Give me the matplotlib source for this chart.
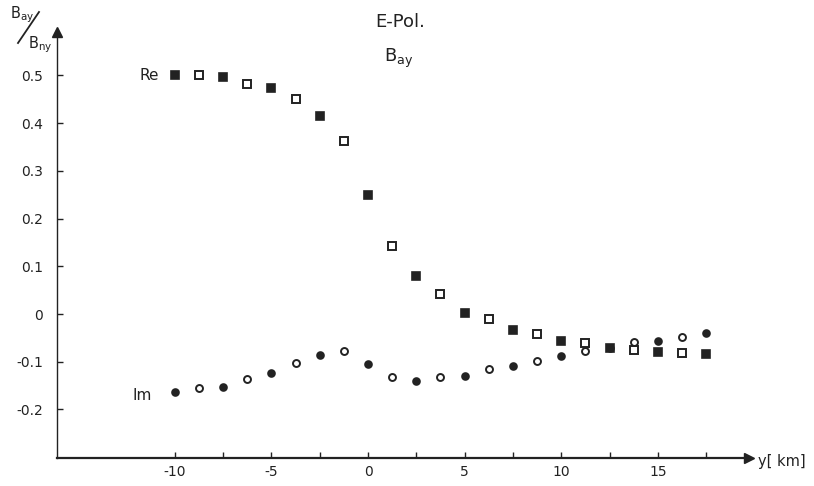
import matplotlib
matplotlib.use("Agg")
import matplotlib.pyplot as plt
import numpy as np

plt.rcParams['font.family'] = ['DejaVu Sans']
plt.rcParams['mathtext.default'] = 'regular'

# Data
y_km = [-10, -8.75, -7.5, -6.25, -5, -3.75, -2.5, -1.25, 0, 1.25, 2.5, 3.75,
        5, 6.25, 7.5, 8.75, 10, 11.25, 12.5, 13.75, 15, 16.25, 17.5]
re_vals = [0.5, 0.5, 0.496, 0.483, 0.474, 0.45, 0.415, 0.362, 0.25, 0.143, 0.08, 0.042,
           0.003, -0.01, -0.034, -0.042, -0.057, -0.061, -0.071, -0.075, -0.08, -0.082, -0.084]
im_vals = [-0.164, -0.155, -0.153, -0.136, -0.124, -0.103, -0.086, -0.078, -0.105, -0.132,
           -0.14, -0.132, -0.13, -0.115, -0.109, -0.099, -0.088, -0.078, -0.071, -0.059,
           -0.057, -0.048, -0.04]
x_ticks = [-10, -5, 0, 5, 10, 15]
x_minor = [-7.5, -2.5, 2.5, 7.5, 12.5, 17.5]
y_ticks = [-0.2, -0.1, 0, 0.1, 0.2, 0.3, 0.4, 0.5]
y_ticklabels = ['-0.2', '-0.1', '0', '0.1', '0.2', '0.3', '0.4', '0.5']

x = np.array(y_km)
re = np.array(re_vals)
im = np.array(im_vals)
filled = np.arange(len(x)) % 2 == 0

W, H = 814, 486
L, R, T, B = 57, 749, 32, 458
fig = plt.figure(figsize=(W/100, H/100), dpi=100)
ax = fig.add_axes([L/W, 1-B/H, (R-L)/W, (B-T)/H])
# data scale: x=0 at px 368, 19.33 px/unit; y=0 at px 314, 477 px/unit
ax.set_xlim((L-368)/19.33, (R-368)/19.33)
ax.set_ylim((314-B)/477, (314-T)/477)

c = '#222222'
# Re: squares
ax.plot(x[filled], re[filled], 's', ms=5.2, mfc=c, mec=c, mew=1.2, ls='none')
ax.plot(x[~filled], re[~filled], 's', ms=5.2, mfc='white', mec=c, mew=1.4, ls='none')
# Im: circles
ax.plot(x[filled], im[filled], 'o', ms=5, mfc=c, mec=c, mew=1.2, ls='none')
ax.plot(x[~filled], im[~filled], 'o', ms=5, mfc='white', mec=c, mew=1.4, ls='none')

for s in ['top', 'right']:
    ax.spines[s].set_visible(False)
ax.spines['left'].set_linewidth(1.0)
ax.spines['bottom'].set_linewidth(1.6)
ax.spines['left'].set_color(c)
ax.spines['bottom'].set_color(c)

# arrows
ax.plot(1, 0, '>', color=c, ms=7, transform=ax.transAxes, clip_on=False)
ax.plot(0, 1, '^', color=c, ms=7, transform=ax.transAxes, clip_on=False)

ax.set_xticks(x_ticks)
ax.set_xticks(x_minor, minor=True)
ax.set_xticklabels([str(t) for t in x_ticks])
ax.tick_params(axis='x', which='both', direction='in', length=4, width=1.0, colors=c,
               labelsize=10, pad=5)
ax.set_yticks(y_ticks)
ax.set_yticklabels(y_ticklabels)
ax.tick_params(axis='y', which='major', direction='in', length=4, width=1.0, colors=c,
               labelsize=10, pad=10)

fig.text((R + 9)/W, 1-(B+3)/H, 'y[ km]', fontsize=10.5, color=c, va='center', ha='left')

fig.text(400/W, 1-22/H, 'E-Pol.', fontsize=13, color=c, ha='center', va='center')
fig.text(399/W, 1-58/H, 'B$_{ay}$', fontsize=13, color=c, ha='center', va='center')

ax.text(-11.3, 0.5, 'Re', fontsize=11, color=c, ha='center', va='center')
ax.text(-11.7, -0.17, 'Im', fontsize=11, color=c, ha='center', va='center')

fig.text(22/W, 1-15/H, 'B$_{ay}$', fontsize=10.5, color=c, ha='center', va='center')
fig.text(40/W, 1-45/H, 'B$_{ny}$', fontsize=10.5, color=c, ha='center', va='center')
fig.lines.append(plt.Line2D([18/W, 39/W], [1-43/H, 1-12/H], transform=fig.transFigure,
                            color=c, lw=1.3))

fig.savefig('out.png', dpi=100)
